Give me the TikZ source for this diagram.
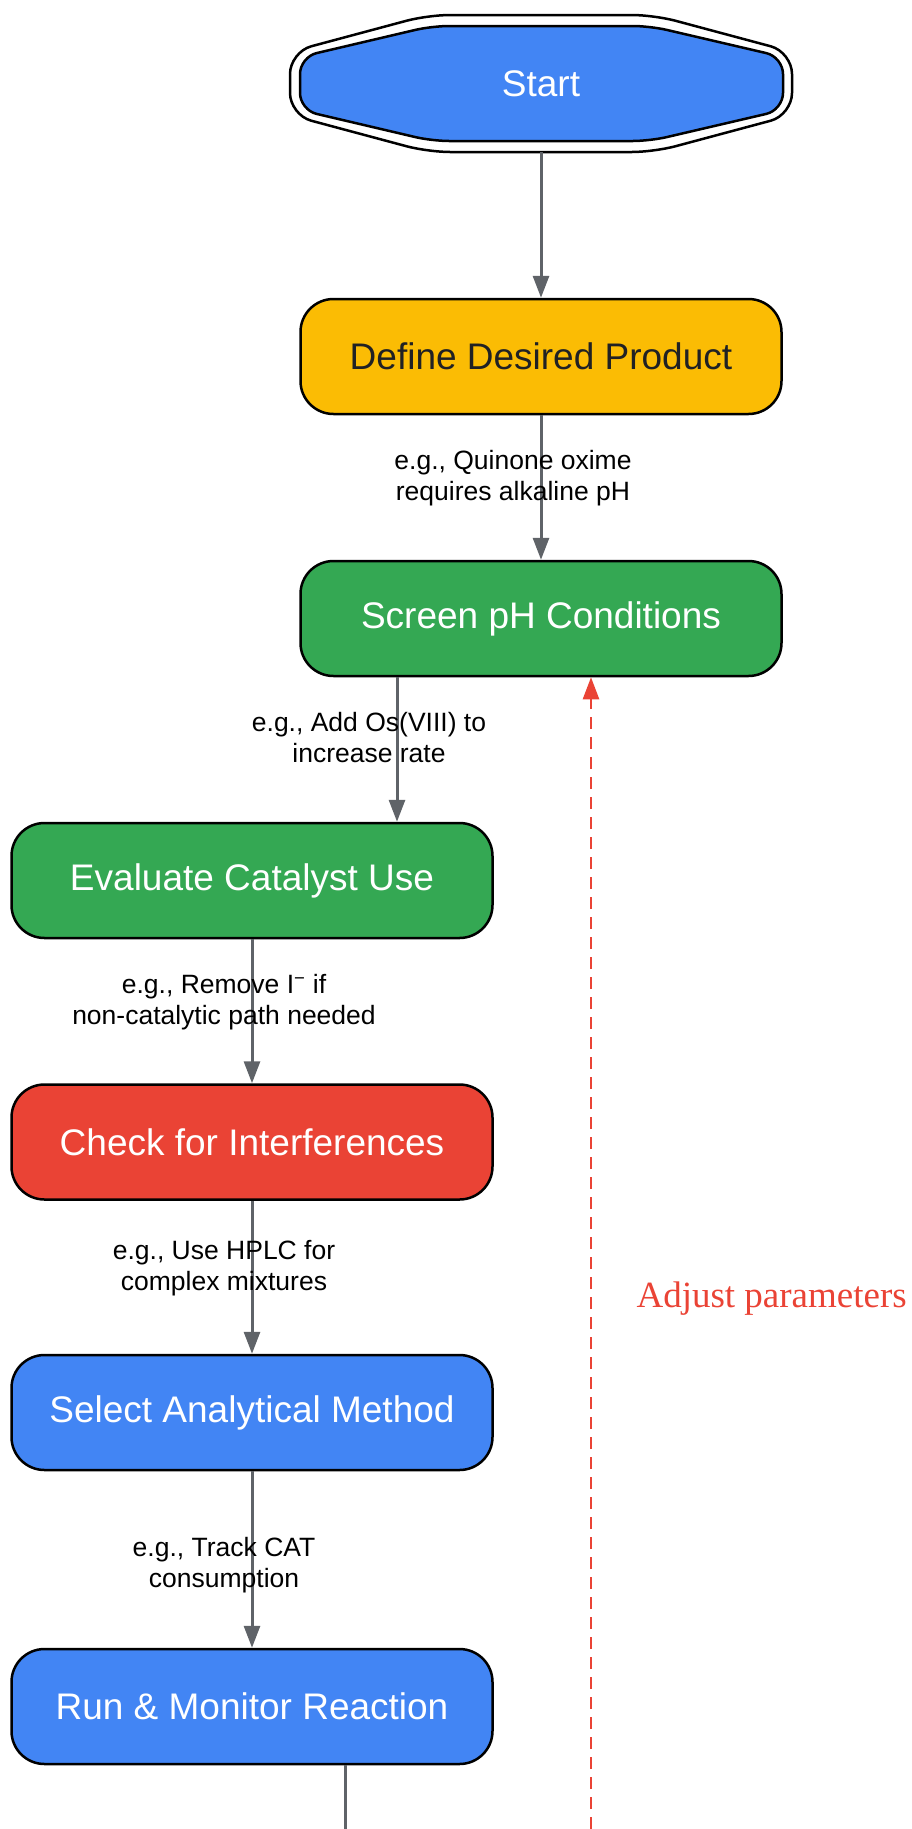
\documentclass[tikz,border=0pt]{standalone}
\usepackage{fontspec}
\setmainfont{Liberation Sans}
\newfontfamily\serifrm{Liberation Serif}
\usetikzlibrary{shapes,arrows.meta,positioning}
\definecolor{gblue}{HTML}{4285F4}
\definecolor{gyellow}{HTML}{FBBC04}
\definecolor{ggreen}{HTML}{34A853}
\definecolor{gred}{HTML}{EA4335}
\definecolor{ggray}{HTML}{5F6368}
\definecolor{gdark}{HTML}{202124}
\tikzstyle{block} = [draw, rounded corners=33pt, line width=2.5pt,
    minimum width=481pt, minimum height=115pt, text=white,
    font=\fontsize{37}{44}\selectfont]
\tikzstyle{flow} = [draw=ggray, line width=3pt, -{Triangle[length=22pt,width=16pt]}]
\tikzstyle{note} = [align=center, font=\fontsize{26.5}{31}\selectfont]

\begin{document}
\begin{tikzpicture}[x=1pt, y=1pt, node distance = 262pt]
  \useasboundingbox (0,0) rectangle (911,-1829);
  % start terminal, double outline
  \draw [line width=2.5pt, rounded corners=22pt] (290,-52) -- (428,-15) -- (654,-15) -- (792,-52)
    -- (792,-115) -- (654,-152) -- (428,-152) -- (290,-115) -- cycle;
  \draw [fill=gblue, line width=2.5pt, rounded corners=17pt] (300,-57) -- (432,-26) -- (650,-26) -- (783,-57)
    -- (783,-110) -- (650,-141) -- (432,-141) -- (300,-110) -- cycle;
  \node [text=white, font=\fontsize{37}{44}\selectfont, minimum width=502pt, minimum height=137pt]
  (start) at (541,-83.5) {Start};
  \node [block, fill=gyellow, text=gdark, below of=start, node distance=273pt] (def) {Define Desired Product};
  \node [block, fill=ggreen, below of=def] (scr) {Screen pH Conditions};
  \node [block, fill=ggreen, below of=scr, xshift=-289pt] (cat) {Evaluate Catalyst Use};
  \node [block, fill=gred, below of=cat, node distance=261.5pt] (chk) {Check for Interferences};
  \node [block, fill=gblue, below of=chk, node distance=270.5pt] (sel) {Select Analytical Method};
  \node [block, fill=gblue, below of=sel, node distance=294pt] (run) {Run \& Monitor Reaction};
  % connectors
  \draw [flow] (start) -- (def);
  \draw [flow] (def) -- (scr);
  \draw [flow] ([xshift=-144pt]scr.south) -- ([xshift=145pt]cat.north);
  \draw [flow] (cat) -- (chk);
  \draw [flow] (chk) -- (sel);
  \draw [flow] (sel) -- (run);
  \coordinate (out) at (345,-1829);
  \draw [ggray, line width=3pt] (run.south -| out) -- (out);
  \coordinate (back) at (591,-1829);
  \draw [gred, line width=2.5pt, dash pattern=on 12pt off 8pt, -{Triangle[length=22pt,width=16pt]}]
    (back) -- (back |- scr.south);
  % labels
  \node [note] (n1) at (513,-478) {e.g., Quinone oxime\\requires alkaline pH};
  \node [note] (n2) at (369,-738) {e.g., Add Os(VIII) to\\increase rate};
  \node [note] (n3) at (224,-1002) {e.g., Remove I\textsuperscript{−} if\\non-catalytic path needed};
  \node [note] (n4) at (224,-1268) {e.g., Use HPLC for\\complex mixtures};
  \node [note] (n5) at (224,-1565) {e.g., Track CAT\\consumption};
  \node [anchor=west, text=gred, font=\serifrm\fontsize{37}{44}\selectfont] (adj) at (633,-1299) {Adjust parameters};
\end{tikzpicture}
\end{document}
